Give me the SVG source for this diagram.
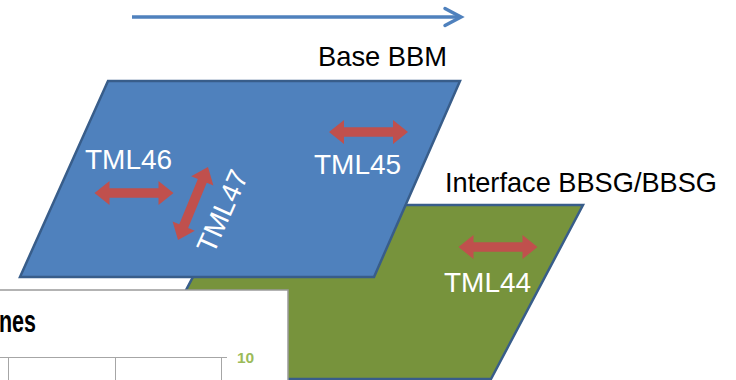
<svg xmlns="http://www.w3.org/2000/svg" width="736" height="380" viewBox="0 0 736 380">
  <style>
    .plane { stroke: #385D8A; stroke-width: 2.5; stroke-linejoin: miter; }
    .lbl { font-family: "Liberation Sans", Arial, sans-serif; font-size: 28px; }
    .wht { fill: #FFFFFF; }
    .blk { fill: #000000; }
    .dbl { fill: #C0504D; }
    .grid { stroke: #A6A6A6; stroke-width: 1; fill: none; }
  </style>
  <defs>
    <path id="dblArrow" d="M-39.5,0 L-24.5,-12 L-24.5,-4.8 L24.5,-4.8 L24.5,-12 L39.5,0 L24.5,12 L24.5,4.8 L-24.5,4.8 L-24.5,12 Z"/>
  </defs>
  <rect width="736" height="380" fill="#FFFFFF"/>

  <g id="interface-plane">
    <polygon class="plane" fill="#77933C" points="231,205 583,205 491,379 139,379"/>
    <use href="#dblArrow" class="dbl" transform="translate(498,247)"/>
    <text class="lbl wht" x="444" y="292">TML44</text>
  </g>

  <g id="base-plane">
    <polygon class="plane" fill="#4F81BD" points="108,81 460,81 374,277 20,277"/>
    <use href="#dblArrow" class="dbl" transform="translate(134,193)"/>
    <text class="lbl wht" x="85" y="169">TML46</text>
    <use href="#dblArrow" class="dbl" transform="translate(193,203.5) rotate(-67.7)"/>
    <text class="lbl wht" text-anchor="middle" transform="translate(222,211) rotate(-66)" x="0" y="10">TML47</text>
    <use href="#dblArrow" class="dbl" transform="translate(368.5,132)"/>
    <text class="lbl wht" x="314" y="174">TML45</text>
  </g>

  <g id="label-base">
    <text class="lbl blk" x="318" y="66" textLength="129" lengthAdjust="spacingAndGlyphs">Base BBM</text>
  </g>
  <g id="label-interface">
    <text class="lbl blk" x="445" y="192" textLength="272" lengthAdjust="spacingAndGlyphs">Interface BBSG/BBSG</text>
  </g>

  <g id="chart-box">
    <rect x="-2" y="290" width="290" height="100" fill="#FFFFFF" stroke="#9A9A9A" stroke-width="1.5"/>
    <text x="-1" y="332" font-family="'Liberation Sans', Arial, sans-serif" font-weight="bold" font-size="31" fill="#000000" textLength="37" lengthAdjust="spacingAndGlyphs">nes</text>
    <path class="grid" d="M0,357.5 H227 M8.5,357.5 V381 M115.5,357.5 V381 M221.5,357.5 V381"/>
    <text x="237" y="362.5" font-family="'Liberation Sans', Arial, sans-serif" font-weight="bold" font-size="15.5" fill="#9BBB59">10</text>
  </g>

  <g id="connectors">
    <path d="M132,17 H460" stroke="#4F81BD" stroke-width="3.5" fill="none"/>
    <path d="M445,8.5 L461,17 L445,25.5" stroke="#4F81BD" stroke-width="3.5" fill="none" stroke-linecap="round" stroke-linejoin="miter"/>
  </g>
</svg>
